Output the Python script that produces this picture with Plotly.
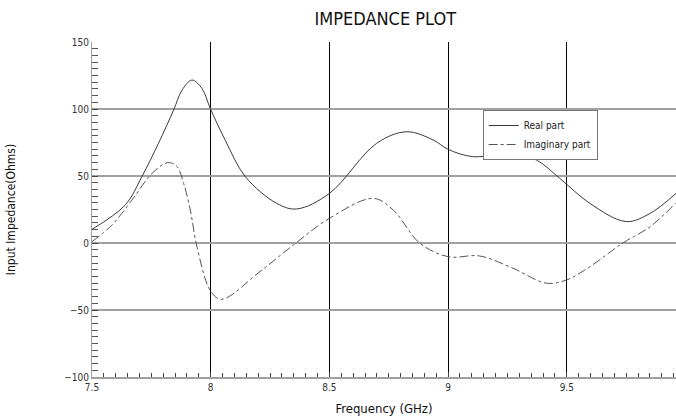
import plotly.graph_objects as go

# Data
freq_real = [7.5, 7.64, 7.71, 7.78, 7.844, 7.879, 7.921, 7.963, 7.998, 8.061,
             8.146, 8.278, 8.362, 8.5, 8.699, 8.825, 8.937, 9.0, 9.106,
             9.26, 9.372, 9.47, 9.597, 9.75, 9.85, 9.96]
real_part = [10.2, 28.4, 49.5, 74.4, 99.3, 114, 121.6, 115.4, 100.5, 76.8,
             49.5, 29.6, 25.4, 37, 74.4, 83, 76.9, 69.9, 64.4,
             66.9, 61.9, 48.3, 29.6, 16, 22, 37]

freq_imag = [7.5, 7.584, 7.668, 7.753, 7.82, 7.858, 7.886, 7.914, 7.942, 8.0, 8.045,
             8.207, 8.348, 8.5, 8.685, 8.769, 8.88, 9.0, 9.133, 9.274, 9.414, 9.499,
             9.597, 9.736, 9.85, 9.96]
imag_part = [1, 13.4, 32, 52, 60, 57, 44.5, 24.6, -2.7, -36, -42,
             -21.4, -1.5, 18.4, 33.3, 24.6, 0, -10.2, -9.7, -18.9, -30, -27.6,
             -17.7, 0, 12, 30]

x_ticks = [7.5, 8, 8.5, 9, 9.5]
x_tick_labels = ["7.5", "8", "8.5", "9", "9.5"]
y_ticks = [-100, -50, 0, 50, 100, 150]
y_tick_labels = ["\u2212100", "\u221250", "0", "50", "100", "150"]

FONT = "Liberation Sans Narrow, DejaVu Sans Condensed, Liberation Sans, sans-serif"

fig = go.Figure()
fig.add_trace(go.Scatter(x=freq_real, y=real_part, mode="lines", name="Real part",
                         line=dict(color="#3a3a3a", width=1, shape="spline", smoothing=1.0)))
fig.add_trace(go.Scatter(x=freq_imag, y=imag_part, mode="lines", name="Imaginary part",
                         line=dict(color="#555555", width=1, dash="dashdot", shape="spline",
                                   smoothing=1.0)))

fig.update_layout(
    width=676, height=419,
    margin=dict(l=92, r=0, t=42, b=42),
    paper_bgcolor="white", plot_bgcolor="white",
    font=dict(family=FONT, color="#222222", size=10),
    title=dict(text="IMPEDANCE PLOT", x=0.57, xanchor="center", y=0.955, yanchor="middle",
               font=dict(family=FONT, size=18, color="#111111")),
    showlegend=True,
    legend=dict(x=0.669, y=0.797, xanchor="left", yanchor="top",
                bgcolor="white", bordercolor="#777777", borderwidth=1,
                font=dict(family=FONT, size=10, color="#222222"),
                tracegroupgap=0, itemwidth=30),
    xaxis=dict(range=[7.5, 9.96], tickvals=x_ticks, ticktext=x_tick_labels,
               showgrid=True, gridcolor="#000000", gridwidth=1,
               ticks="inside", ticklen=5, tickcolor="#444444",
               minor=dict(dtick=0.05, tick0=7.5, ticks="inside", ticklen=4,
                          tickcolor="#444444", showgrid=False),
               showline=True, linecolor="#a0a0a0", linewidth=2,
               zeroline=False, tickfont=dict(size=10, color="#333333"),
               title=dict(text="Frequency (GHz)", font=dict(family=FONT, size=13, color="#111111"),
                          standoff=12)),
    yaxis=dict(range=[-100, 150], tickvals=y_ticks, ticktext=y_tick_labels,
               showgrid=True, gridcolor="#a0a0a0", gridwidth=2,
               ticks="inside", ticklen=6, tickcolor="#444444",
               minor=dict(dtick=5, tick0=0, ticks="inside", ticklen=6,
                          tickcolor="#555555", showgrid=False),
               showline=True, linecolor="#a0a0a0", linewidth=1,
               zeroline=False, tickfont=dict(size=10, color="#333333"),
               title=dict(text="Input Impedance(Ohms)", font=dict(family=FONT, size=12, color="#111111"),
                          standoff=46)),
)

fig.write_html("out.html")
